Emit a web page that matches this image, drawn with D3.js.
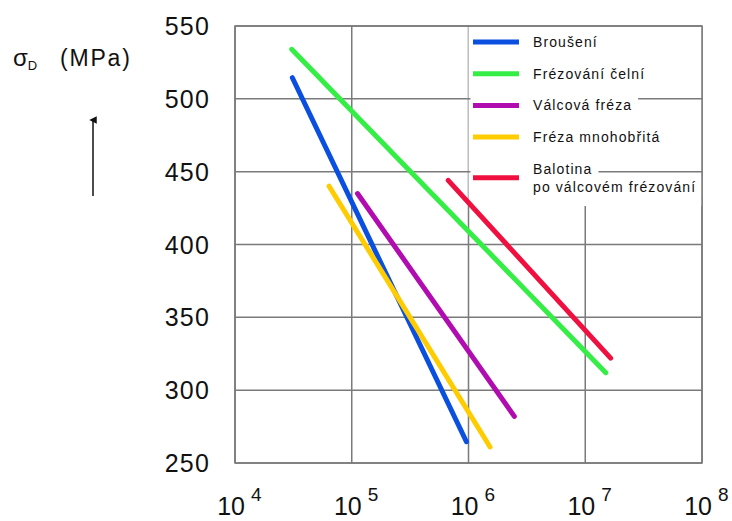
<!DOCTYPE html>
<html>
<head>
<meta charset="utf-8">
<script src="https://cdn.jsdelivr.net/npm/d3@7"></script>
<style>
  body { margin: 0; background: #fff; }
  text { font-family: "Liberation Sans", Arial, sans-serif; fill: #111; }
</style>
</head>
<body>
<script>
// series (treatment), each drawn as a straight S-N line between two points
var seriesNames = ["Broušení", "Frézování čelní", "Válcová fréza", "Fréza mnohobřitá", "Balotina|po válcovém frézování"];
var seriesColors = ["#0a4fe0", "#35ee45", "#b00cb0", "#ffcc00", "#f0103f"];
var cyclesStart = [3.1e4, 3.06e4, 1.12e5, 6.4e4, 6.7e5];
var cyclesEnd = [9.6e5, 1.5e7, 2.47e6, 1.53e6, 1.65e7];
var stressStart = [514.5, 534, 435, 440, 444];
var stressEnd = [264.6, 312, 282, 261, 322];

var yTicks = [250, 300, 350, 400, 450, 500, 550];
var xTicks = [1e4, 1e5, 1e6, 1e7, 1e8];

var W = 732, H = 521;
var margin = {left: 235, right: 30, top: 26, bottom: 58};

var svg = d3.select("body").append("svg")
  .attr("width", W)
  .attr("height", H);

var x = d3.scaleLog().domain([1e4, 1e8]).range([margin.left, W - margin.right]);
var y = d3.scaleLinear().domain([250, 550]).range([H - margin.bottom, margin.top]);

var gridColor = "#7a7a7a";

// vertical grid
svg.append("g").selectAll("line")
  .data(xTicks)
  .enter().append("line")
  .attr("x1", d => x(d)).attr("x2", d => x(d))
  .attr("y1", y(550)).attr("y2", y(250))
  .attr("stroke", gridColor)
  .attr("stroke-width", 1.5);

// legend box (hides vertical grid behind it)
var legTop = y(550), legBottom = 206;
svg.append("rect")
  .attr("x", x(1e6)).attr("y", legTop)
  .attr("width", x(1e8) - x(1e6))
  .attr("height", legBottom - legTop)
  .style("fill", "#fff");

// horizontal grid
svg.append("g").selectAll("line")
  .data(yTicks)
  .enter().append("line")
  .attr("x1", x(1e4)).attr("x2", x(1e8))
  .attr("y1", d => y(d)).attr("y2", d => y(d))
  .attr("stroke", gridColor)
  .attr("stroke-width", 1.5);

// data lines
seriesNames.forEach(function(name, i) {
  svg.append("line")
    .attr("x1", x(cyclesStart[i])).attr("y1", y(stressStart[i]))
    .attr("x2", x(cyclesEnd[i])).attr("y2", y(stressEnd[i]))
    .attr("stroke", seriesColors[i])
    .attr("stroke-width", 5)
    .attr("stroke-linecap", "round");
});

// legend entries
var leg = svg.append("g");
seriesNames.forEach(function(name, i) {
  var rowY = 42 + i * 31.7;
  var lines = name.split("|");
  var g = leg.append("g");
  var bg = g.append("g");
  var lineY = lines.length > 1 ? rowY + 9 : rowY;
  var texts = lines.map(function(t, k) {
    return g.append("text")
      .attr("x", 533)
      .attr("y", rowY + k * 18.5)
      .attr("dy", "0.35em")
      .style("font-size", "14px")
      .style("letter-spacing", "1.1px")
      .text(t);
  });
  texts.forEach(function(t, k) {
    var len = t.node().getComputedTextLength();
    bg.append("rect")
      .attr("x", x(1e6) + 2)
      .attr("y", rowY + k * 18.5 - 9)
      .attr("width", 533 + len + 6 - x(1e6) - 2)
      .attr("height", 18)
      .style("fill", "#fff");
  });
  g.append("line")
    .attr("x1", 473).attr("x2", 519)
    .attr("y1", lineY).attr("y2", lineY)
    .attr("stroke", seriesColors[i])
    .attr("stroke-width", 5);
});

// frame
svg.append("rect")
  .attr("x", x(1e4)).attr("y", y(550))
  .attr("width", x(1e8) - x(1e4))
  .attr("height", y(250) - y(550))
  .style("fill", "none")
  .attr("stroke", gridColor)
  .attr("stroke-width", 1.5);

// y tick labels
svg.append("g").selectAll("text")
  .data(yTicks)
  .enter().append("text")
  .attr("x", 210)
  .attr("y", d => y(d))
  .attr("dy", "0.36em")
  .attr("text-anchor", "end")
  .style("font-size", "25px")
  .style("letter-spacing", "1.2px")
  .text(d => d);

// x tick labels: 10^n
var xl = svg.append("g").selectAll("g")
  .data(xTicks)
  .enter().append("g");
xl.append("text")
  .attr("x", d => x(d) + 10)
  .attr("y", 515)
  .attr("text-anchor", "end")
  .style("font-size", "25px")
  .text("10");
xl.append("text")
  .attr("x", d => x(d) + 16)
  .attr("y", 501)
  .style("font-size", "19px")
  .text(d => Math.round(Math.log10(d)));

// y axis title
var title = svg.append("text")
  .attr("x", 13)
  .attr("y", 66);
title.append("tspan")
  .style("font-size", "24px")
  .text("σ");
title.append("tspan")
  .attr("dy", 4)
  .style("font-size", "13px")
  .text("D");
title.append("tspan")
  .attr("x", 60)
  .attr("dy", -4)
  .style("font-size", "23px")
  .style("letter-spacing", "1.8px")
  .text("(MPa)");

// arrow
svg.append("defs").append("marker")
  .attr("id", "arrow")
  .attr("viewBox", "0 0 10 10")
  .attr("refX", 5).attr("refY", 5)
  .attr("markerWidth", 5).attr("markerHeight", 6)
  .attr("orient", "auto")
  .append("path")
  .attr("d", "M0,10 L5,0 L10,10 Z")
  .style("fill", "#111");
svg.append("line")
  .attr("x1", 93).attr("x2", 93)
  .attr("y1", 196).attr("y2", 120)
  .attr("stroke", "#111")
  .attr("stroke-width", 1.5)
  .attr("marker-end", "url(#arrow)");
</script>
</body>
</html>
